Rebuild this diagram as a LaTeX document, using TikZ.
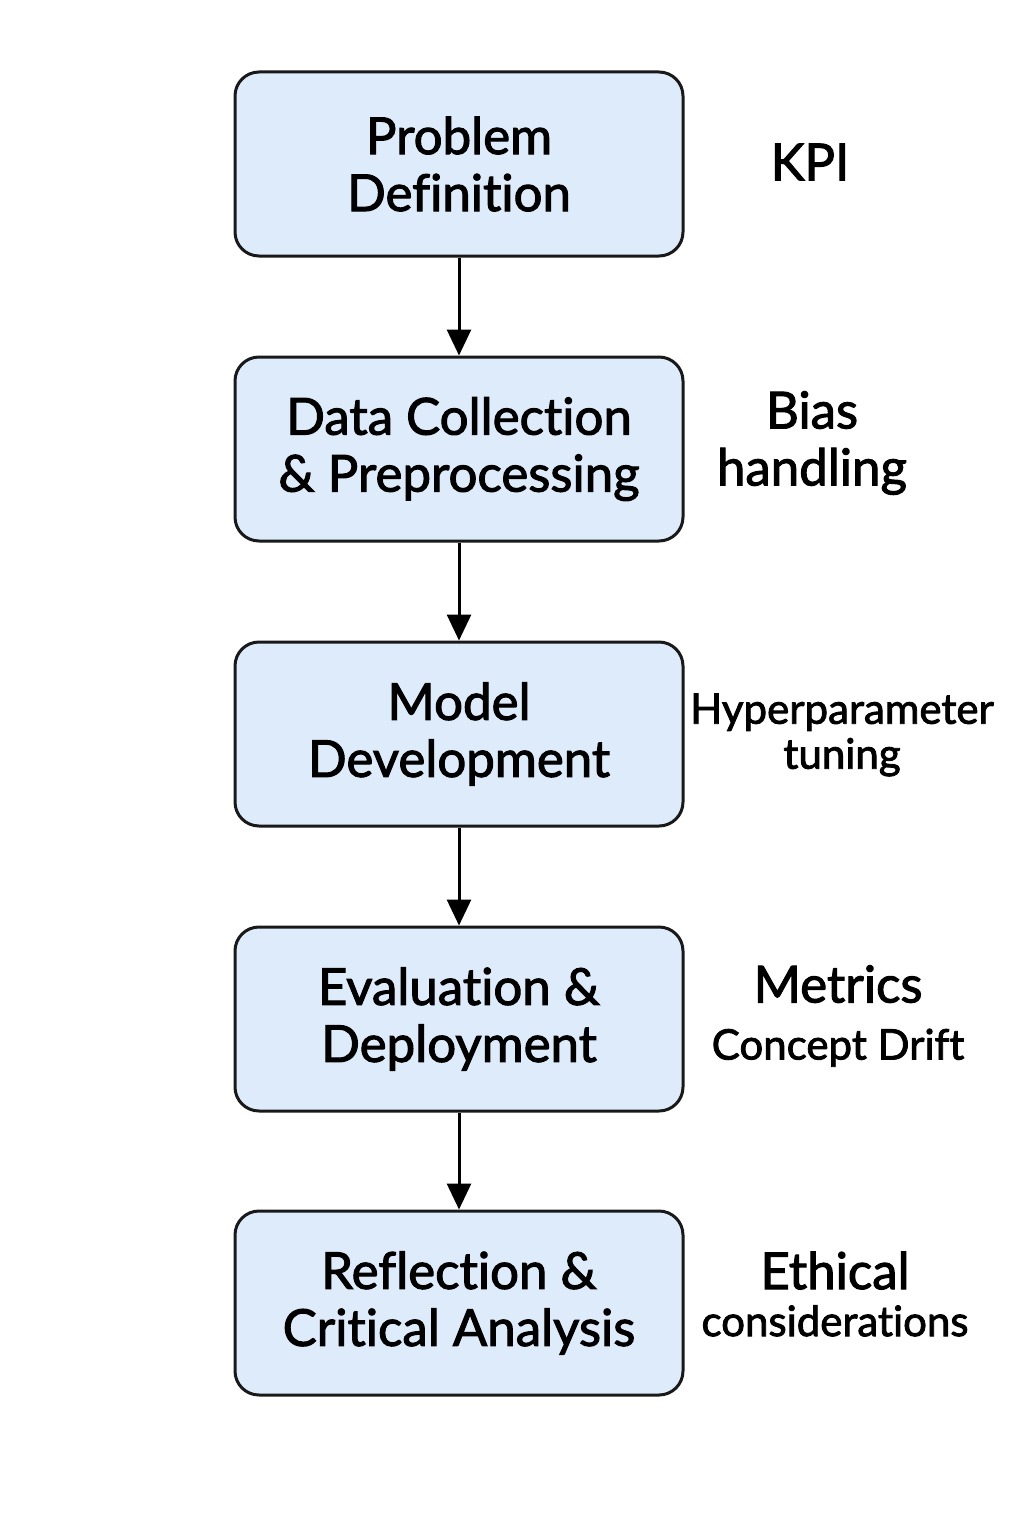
\documentclass[tikz,border=0pt]{standalone}
\usepackage{fontspec}
\setmainfont{Lato}[Ligatures={NoCommon}, UprightFeatures={FakeBold=2}]
\usetikzlibrary{arrows.meta}
\definecolor{stagefill}{HTML}{DDEBFA}

\begin{document}
\begin{tikzpicture}[x=1pt,y=-1pt,>={Triangle[length=26pt,width=24pt]},
    stage/.style={draw=black!90, line width=3pt, fill=stagefill,
      rounded corners=24pt, minimum width=448pt, minimum height=184pt,
      align=center, font=\fontsize{51}{57}\selectfont},
    note/.style={align=center, font=\fontsize{51}{57}\selectfont},
    smallnote/.style={align=center, font=\fontsize{42}{45}\selectfont}]
    \useasboundingbox (0,0) rectangle (1024,1536);

    % stages
    \node[stage] (problem)  at (459,164)  {Problem\\Definition};
    \node[stage] (data)     at (459,449)  {Data Collection\\\& Preprocessing};
    \node[stage] (model)    at (459,734)  {Model\\Development};
    \node[stage] (eval)     at (459,1019) {Evaluation \&\\Deployment};
    \node[stage] (reflect)  at (459,1303) {Reflection \&\\Critical Analysis};

    % side notes
    \node[note]      (kpi)    at (810,162)  {KPI};
    \node[note]      (bias)   at (812,443)  {Bias\\handling};
    \node[smallnote] (hyper)  at (842,735)  {Hyperparameter\\tuning};
    \node[smallnote, font=\fontsize{42}{57}\selectfont] (metrics) at (838,1016)
      {{\fontsize{51}{57}\selectfont Metrics}\\Concept Drift};
    \node[smallnote, font=\fontsize{42}{47}\selectfont] (ethics)  at (835,1294)
      {{\fontsize{51}{57}\selectfont Ethical}\\considerations};

    \foreach \a/\b in {problem/data,data/model,model/eval,eval/reflect}
      {\path (\a) edge[->, line width=3pt] (\b);}
\end{tikzpicture}
\end{document}
